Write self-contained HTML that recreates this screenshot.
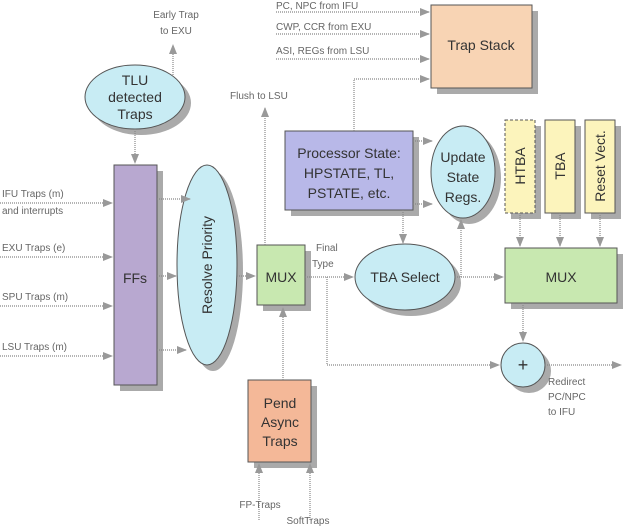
<!DOCTYPE html>
<html><head><meta charset="utf-8"><style>
html,body{margin:0;padding:0;background:#fff}
svg{display:block}
text{font-family:"Liberation Sans",sans-serif;fill:#333}
.s{font-size:10px;fill:#666}
.l{font-size:14px}
</style></head><body>
<svg width="623" height="528" viewBox="0 0 623 528" xmlns="http://www.w3.org/2000/svg">
<defs>
<marker id="a" markerWidth="10" markerHeight="8" refX="9" refY="4" orient="auto" markerUnits="userSpaceOnUse">
<path d="M0,0 L10,4 L0,8 z" fill="#999"/></marker>
</defs>
<g fill="#aaa">
<ellipse cx="141" cy="103" rx="50" ry="32"/>
<rect x="120" y="171" width="43" height="220"/>
<ellipse cx="213" cy="271" rx="30" ry="100"/>
<rect x="263" y="251" width="48" height="60"/>
<rect x="254" y="386" width="63" height="82"/>
<rect x="291" y="137" width="128" height="79"/>
<rect x="437" y="11" width="101" height="83"/>
<ellipse cx="469" cy="178" rx="32" ry="46"/>
<ellipse cx="411" cy="283" rx="50" ry="33"/>
<rect x="511" y="254" width="112" height="55"/>
<rect x="511" y="126" width="30" height="93"/>
<rect x="551" y="126" width="30" height="93"/>
<rect x="591" y="126" width="30" height="93"/>
<circle cx="529" cy="371" r="22"/>
</g>
<g stroke="#555" stroke-width="1">
<ellipse cx="135" cy="97" rx="50" ry="32" fill="#c8ecf4"/>
<rect x="114" y="165" width="43" height="220" fill="#b8a8d0"/>
<ellipse cx="207" cy="265" rx="30" ry="100" fill="#c8ecf4"/>
<rect x="257" y="245" width="48" height="60" fill="#c8e8b0"/>
<rect x="248" y="380" width="63" height="82" fill="#f4b898"/>
<rect x="285" y="131" width="128" height="79" fill="#b8b8e8"/>
<rect x="431" y="5" width="101" height="83" fill="#f8d4b4"/>
<ellipse cx="463" cy="172" rx="32" ry="46" fill="#c8ecf4"/>
<ellipse cx="405" cy="277" rx="50" ry="33" fill="#c8ecf4"/>
<rect x="505" y="248" width="112" height="55" fill="#c8e8b0"/>
<rect x="505" y="120" width="30" height="93" fill="#fcf4bc" stroke-dasharray="3,2"/>
<rect x="545" y="120" width="30" height="93" fill="#fcf4bc"/>
<rect x="585" y="120" width="30" height="93" fill="#fcf4bc"/>
<circle cx="523" cy="365" r="22" fill="#c8ecf4"/>
</g>
<g stroke="#888" stroke-width="1.2" stroke-dasharray="1,1" fill="none" marker-end="url(#a)">
<path d="M173 75 V45"/>
<path d="M135 129 V163"/>
<path d="M0 203 H112"/><path d="M0 257 H112"/><path d="M0 306 H112"/><path d="M0 356 H112"/>
<path d="M157 199 H190"/><path d="M157 276 H176"/><path d="M157 350 H186"/>
<path d="M237 276 H255"/>
<path d="M265 245 V108"/>
<path d="M283 380 V308"/>
<path d="M259 520 V464"/><path d="M310 520 V464"/>
<path d="M276 12 H429"/><path d="M276 34 H429"/><path d="M276 59 H429"/>
<path d="M354 131 V79 H429"/>
<path d="M413 141 H432"/><path d="M413 204 H432"/>
<path d="M403 210 V243"/>
<path d="M305 277 H353"/>
<path d="M455 277 H503"/>
<path d="M461 277 V220"/>
<path d="M520 213 V246"/><path d="M560 213 V246"/><path d="M600 213 V246"/>
<path d="M523 303 V341"/>
<path d="M327 277 V365 H499"/>
<path d="M545 365 H621"/>
</g>
<text class="s" x="176" y="18" text-anchor="middle">Early Trap</text>
<text class="s" x="176" y="34" text-anchor="middle">to EXU</text>
<text class="l" x="135" y="85" text-anchor="middle">TLU</text>
<text class="l" x="135" y="102" text-anchor="middle">detected</text>
<text class="l" x="135" y="119" text-anchor="middle">Traps</text>
<text class="s" x="2" y="197">IFU Traps (m)</text>
<text class="s" x="2" y="214">and interrupts</text>
<text class="s" x="2" y="251">EXU Traps (e)</text>
<text class="s" x="2" y="300">SPU Traps (m)</text>
<text class="s" x="2" y="350">LSU Traps (m)</text>
<text class="l" x="135" y="283" text-anchor="middle">FFs</text>
<text class="l" transform="translate(212,265) rotate(-90)" text-anchor="middle">Resolve Priority</text>
<text class="s" x="230" y="99">Flush to LSU</text>
<text class="l" x="281" y="282" text-anchor="middle">MUX</text>
<text class="s" x="316" y="251">Final</text>
<text class="s" x="312" y="267">Type</text>
<text class="l" x="280" y="408" text-anchor="middle">Pend</text>
<text class="l" x="280" y="427" text-anchor="middle">Async</text>
<text class="l" x="280" y="446" text-anchor="middle">Traps</text>
<text class="s" x="260" y="508" text-anchor="middle">FP-Traps</text>
<text class="s" x="308" y="524" text-anchor="middle">SoftTraps</text>
<text class="s" x="276" y="9">PC, NPC from IFU</text>
<text class="s" x="276" y="30">CWP, CCR from EXU</text>
<text class="s" x="276" y="54">ASI, REGs from LSU</text>
<text class="l" x="481" y="50" text-anchor="middle">Trap Stack</text>
<text class="l" x="349" y="158" text-anchor="middle">Processor State:</text>
<text class="l" x="349" y="178" text-anchor="middle">HPSTATE, TL,</text>
<text class="l" x="349" y="198" text-anchor="middle">PSTATE, etc.</text>
<text class="l" x="463" y="162" text-anchor="middle">Update</text>
<text class="l" x="463" y="182" text-anchor="middle">State</text>
<text class="l" x="463" y="202" text-anchor="middle">Regs.</text>
<text class="l" x="405" y="282" text-anchor="middle">TBA Select</text>
<text class="l" x="561" y="282" text-anchor="middle">MUX</text>
<text class="l" transform="translate(525,166) rotate(-90)" text-anchor="middle">HTBA</text>
<text class="l" transform="translate(565,166) rotate(-90)" text-anchor="middle">TBA</text>
<text class="l" transform="translate(605,166) rotate(-90)" text-anchor="middle">Reset Vect.</text>
<text x="523" y="371" text-anchor="middle" style="font-size:18px">+</text>
<text class="s" x="548" y="385">Redirect</text>
<text class="s" x="548" y="400">PC/NPC</text>
<text class="s" x="548" y="415">to IFU</text>
</svg>
</body></html>
